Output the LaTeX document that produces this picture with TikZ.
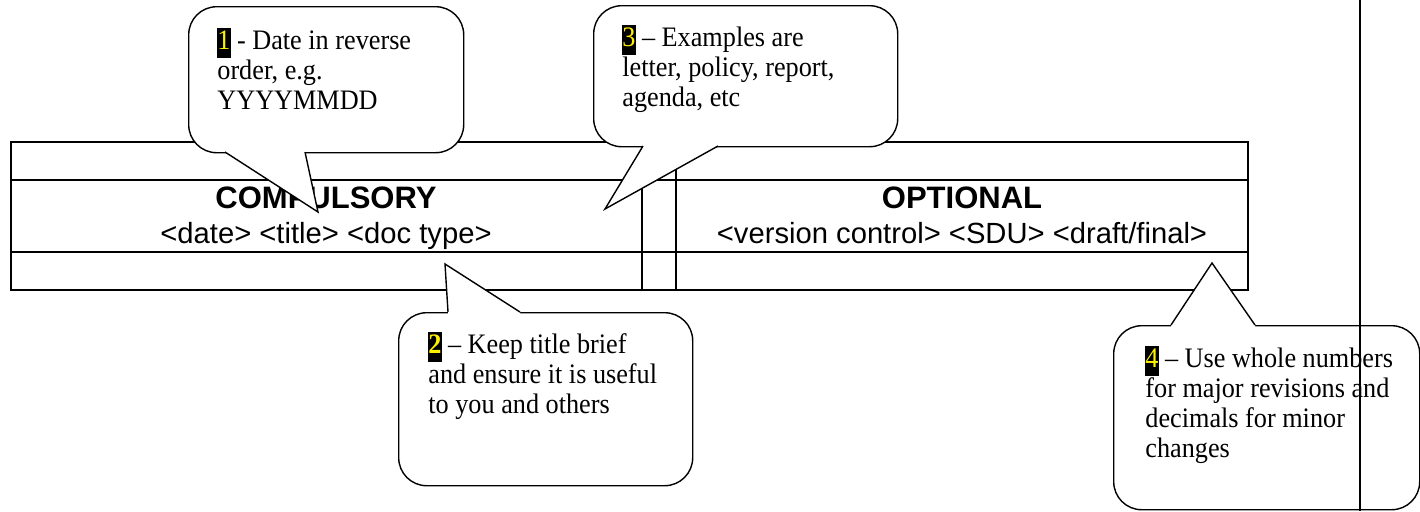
\documentclass[tikz,border=0pt]{standalone}
\usepackage{fontspec}
\setmainfont{Liberation Serif}
\setsansfont{Liberation Sans}
\newfontfamily\notefont[FakeStretch=0.93,Ligatures=TeX]{Liberation Serif}
\usetikzlibrary{positioning}

\newcommand{\marknum}[1]{{\setlength{\fboxsep}{0pt}\colorbox{black}{\textcolor{yellow}{\strut #1}}}}

\tikzset{
  rule/.style={line width=0.9pt},
  cell/.style={font=\sffamily\fontsize{14.6}{17.5}\selectfont, anchor=base},
  bubble/.style={draw, fill=white, line width=0.7pt, rounded corners=14pt, inner sep=0pt, anchor=north west},
  tipline/.style={line width=0.7pt, line join=miter},
  note/.style={inner sep=0pt, align=left, font=\notefont\fontsize{14.1}{15}\selectfont}
}

\begin{document}
\begin{tikzpicture}[x=0.5pt,y=-0.5pt]
  \useasboundingbox (0,0) rectangle (1420,511);
  \clip (0,0) rectangle (1420,511);

  % the table
  \draw[rule] (11,142) rectangle (1248,290);
  \draw[rule] (11,180) -- (1248,180);
  \draw[rule] (11,252) -- (1248,252);
  \draw[rule] (642,142) -- (642,290);
  \draw[rule] (676,142) -- (676,290);
  \node[cell] (must) at (326,208) {\fontsize{15.5}{17.5}\selectfont\textbf{COMPULSORY}};
  \node[cell] (mustlist) at (326,243) {<date> <title> <doc type>};
  \node[cell] (may) at (962,208) {\fontsize{15.5}{17.5}\selectfont\textbf{OPTIONAL}};
  \node[cell] (maylist) at (962,243) {<version control> <SDU> <draft/final>};

  % callouts
  \node[bubble, minimum width=137.5pt, minimum height=73pt] (c1) at (188,6) {};
  \node[bubble, minimum width=152pt, minimum height=70.5pt] (c3) at (593,5) {};
  \node[bubble, minimum width=147pt, minimum height=86.5pt] (c2) at (398,312) {};
  \node[bubble, minimum width=153pt, minimum height=92pt] (c4) at (1113,325) {};
  \foreach \xa/\xb/\yb/\xt/\yt/\d in {225/305/152/318/212/-4, 643/718/146/605/209/-4,
                                      448/520/312/445/264/4, 1171/1255/325/1212/263/4} {
    \fill[white] (\xa,\yb+\d) -- (\xa,\yb) -- (\xt,\yt) -- (\xb,\yb) -- (\xb,\yb+\d) -- cycle;
    \draw[tipline] (\xa,\yb) -- (\xt,\yt) -- (\xb,\yb);
  }

  \node[note, below right=11pt and 14.5pt of c1.north west] (n1)
    {\marknum{1} - Date in reverse\\order, e.g.\\YYYYMMDD};
  \node[note, below right=10pt and 14.5pt of c3.north west] (n3)
    {\marknum{3} -- Examples are\\letter, policy, report,\\agenda, etc};
  \node[note, below right=10pt and 15pt of c2.north west] (n2)
    {\marknum{\textbf{2}} -- Keep title brief\\and ensure it is useful\\to you and others};
  \node[note, below right=10.5pt and 16pt of c4.north west] (n4)
    {\marknum{4} -- Use whole numbers\\for major revisions and\\decimals for minor\\changes};

  % page edge
  \draw[line width=1pt] (1360,0) -- (1360,511);
\end{tikzpicture}
\end{document}
